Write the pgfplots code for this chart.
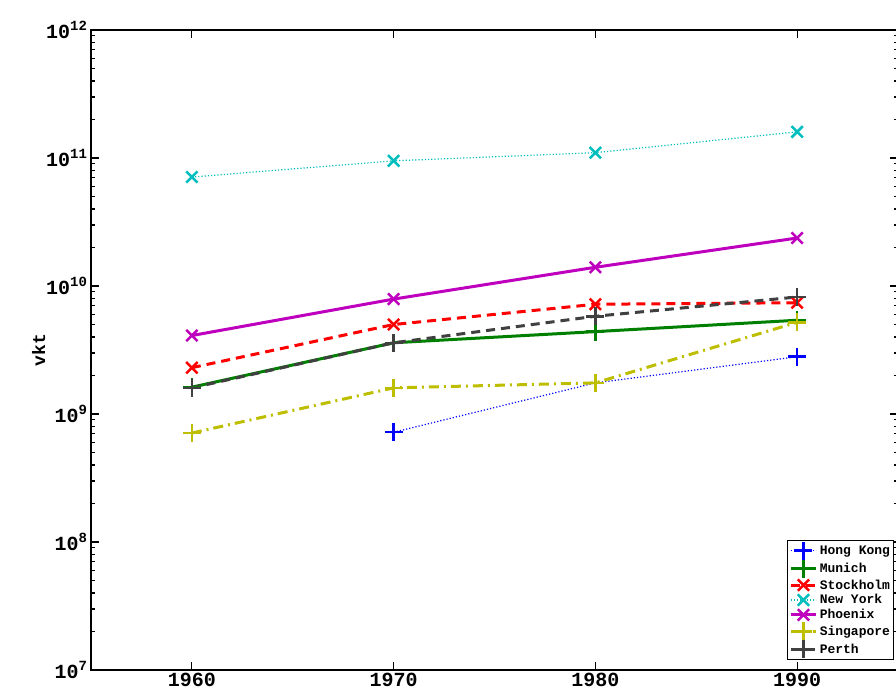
\documentclass[border=0pt]{standalone}
\usepackage{pgfplots}
\pgfplotsset{compat=1.18}
\usepackage{fontspec}
\setmonofont{Liberation Mono}
\definecolor{cM}{RGB}{190,0,190}
\definecolor{cC}{RGB}{0,190,190}
\definecolor{cY}{RGB}{190,190,0}
\definecolor{cG}{RGB}{0,128,0}
\definecolor{cP}{RGB}{64,64,64}
\begin{document}
\begin{tikzpicture}[x=1pt,y=1pt]
\useasboundingbox (-91,-30) rectangle (805,670);
\begin{axis}[at={(0,0)},anchor=south west,
 scale only axis, width=807pt, height=640pt,
 xmin=1955, xmax=1995, ymode=log, ymin=1e7, ymax=1e12,
 xtick={1960,1970,1980,1990},
 xticklabels={1960,1970,1980,1990},
 ytick={1e7,1e8,1e9,1e10,1e11,1e12},
 yticklabels={10\textsuperscript{7},10\textsuperscript{8},10\textsuperscript{9},10\textsuperscript{10},10\textsuperscript{11},10\textsuperscript{12}},
 ticklabel style={font=\ttfamily\bfseries\fontsize{20}{20}\selectfont},
 ylabel={\ttfamily\bfseries\fontsize{18}{18}\selectfont vkt}, ylabel style={yshift=-6pt},
 axis line style={line width=2.5pt}, tick style={black, line width=1.2pt},
 major tick length=8pt, minor tick length=4pt, tick align=inside,
 legend style={at={(0.995,0.015)},anchor=south east, font=\ttfamily\bfseries\fontsize{13}{13}\selectfont, row sep=0pt, inner sep=1.5pt, line width=1pt},
 legend cell align=left,
 legend image code/.code={\draw[#1] (0cm,0cm) -- (0.9cm,0cm); \draw[#1,only marks] plot coordinates {(0.45cm,0cm)};},
]
\addplot[blue, dotted, mark=+, line width=1.2pt, mark size=9pt, mark options={solid,line width=2.5pt}] coordinates {(1970,7.2e8)(1980,1.75e9)(1990,2.8e9)};
\addplot[cG, solid, mark=+, line width=3pt, mark size=9pt, mark options={solid,line width=2.5pt}] coordinates {(1960,1.62e9)(1970,3.6e9)(1980,4.4e9)(1990,5.4e9)};
\addplot[red, dash pattern=on 9pt off 6pt, mark=x, line width=3pt, mark size=8pt, mark options={solid,line width=2.5pt}] coordinates {(1960,2.3e9)(1970,5.0e9)(1980,7.2e9)(1990,7.4e9)};
\addplot[cC, dotted, mark=x, line width=1.2pt, mark size=8pt, mark options={solid,line width=2.5pt}] coordinates {(1960,7.1e10)(1970,9.5e10)(1980,1.1e11)(1990,1.6e11)};
\addplot[cM, solid, mark=x, line width=3pt, mark size=8pt, mark options={solid,line width=2.5pt}] coordinates {(1960,4.1e9)(1970,7.9e9)(1980,1.4e10)(1990,2.37e10)};
\addplot[cY, dash pattern=on 10pt off 5pt on 2pt off 5pt, mark=+, line width=3pt, mark size=9pt, mark options={solid,line width=2.5pt}] coordinates {(1960,7.1e8)(1970,1.6e9)(1980,1.75e9)(1990,5.2e9)};
\addplot[cP, dash pattern=on 9pt off 6pt, mark=+, line width=3pt, mark size=9pt, mark options={solid,line width=2.5pt}] coordinates {(1960,1.6e9)(1970,3.6e9)(1980,5.8e9)(1990,8.2e9)};
\legend{Hong Kong,Munich,Stockholm,New York,Phoenix,Singapore,Perth}
\end{axis}
\end{tikzpicture}
\end{document}
